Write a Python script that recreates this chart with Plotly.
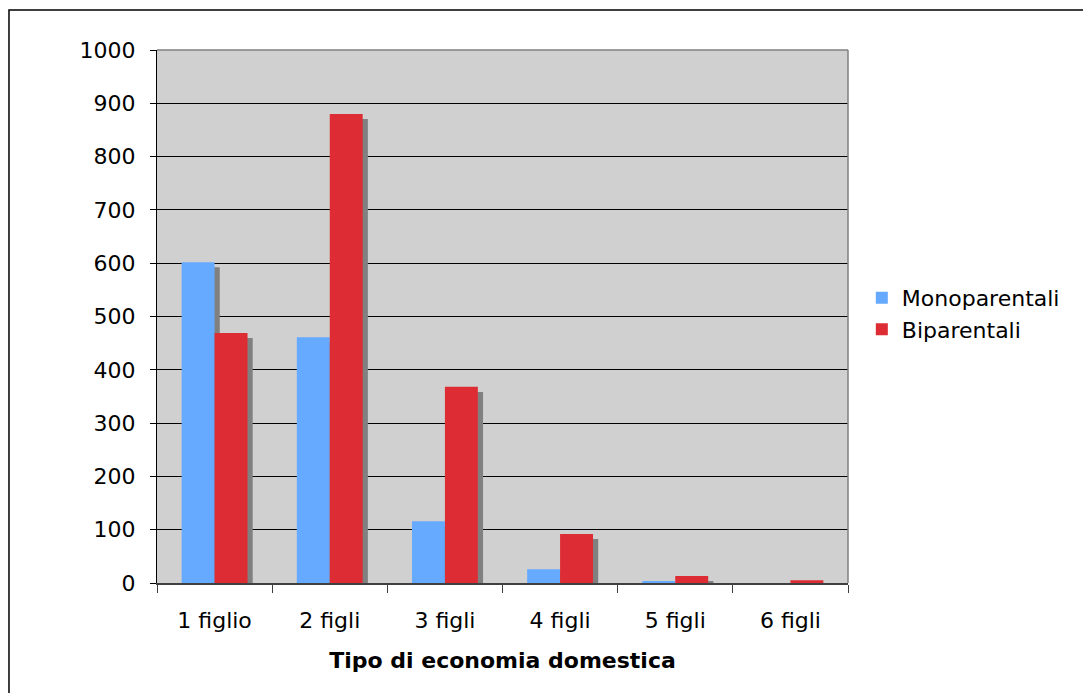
import plotly.graph_objects as go

categories = ["1 figlio", "2 figli", "3 figli", "4 figli", "5 figli", "6 figli"]
monoparentali = [602, 461, 116, 26, 2, 0]
biparentali = [469, 880, 368, 92, 13, 5]

y_ticks = list(range(0, 1001, 100))

FONT = "DejaVu Sans, Verdana, sans-serif"
FS = 22
BAR_W = 0.286          # bar width in category units
SHADOW_DX = 0.045      # shadow shift to the right (category units)
SHADOW_DY = 9.5        # shadow drop (value units)

MONO_COLOR = "#66AAFF"
BI_COLOR = "#DD2C33"

fig = go.Figure()

# drop shadows behind each bar
for vals, off in ((monoparentali, -BAR_W), (biparentali, 0.0)):
    fig.add_trace(go.Bar(
        x=categories,
        y=[max(v - SHADOW_DY, 0) for v in vals],
        offset=off + SHADOW_DX,
        width=BAR_W,
        marker=dict(color="#808080", line=dict(width=0)),
        showlegend=False,
        hoverinfo="skip",
    ))

fig.add_trace(go.Bar(
    name="Monoparentali", x=categories, y=monoparentali,
    offset=-BAR_W, width=BAR_W,
    marker=dict(color=MONO_COLOR, line=dict(width=0)),
))
fig.add_trace(go.Bar(
    name="Biparentali", x=categories, y=biparentali,
    offset=0.0, width=BAR_W,
    marker=dict(color=BI_COLOR, line=dict(width=0)),
))

fig.update_layout(
    width=1083, height=693,
    barmode="overlay",
    paper_bgcolor="white",
    plot_bgcolor="#D0D0D0",
    margin=dict(l=157, r=235, t=50, b=110),
    font=dict(family=FONT, size=FS, color="black"),
    legend=dict(
        x=1.02, y=0.505, xanchor="left", yanchor="middle",
        font=dict(family=FONT, size=FS, color="black"),
        bgcolor="rgba(0,0,0,0)",
        tracegroupgap=0, itemwidth=30,
    ),
    shapes=[
        # outer frame (its right and bottom edges fall outside the page)
        dict(type="rect", xref="paper", yref="paper",
             x0=-0.2142, x1=1.6, y0=-0.5, y1=1.075,
             line=dict(color="black", width=1.5), fillcolor="rgba(0,0,0,0)",
             layer="below"),
        # gray frame on the top and right of the plot area
        dict(type="line", xref="paper", yref="paper", x0=0, x1=1, y0=1, y1=1,
             line=dict(color="#808080", width=1.5)),
        dict(type="line", xref="paper", yref="paper", x0=1, x1=1, y0=0, y1=1,
             line=dict(color="#808080", width=1.5)),
    ],
)

fig.update_xaxes(
    type="category",
    range=[-0.5, 5.5],
    showline=True, linecolor="#404040", linewidth=1.5,
    ticks="outside", tickson="boundaries", ticklen=8, tickcolor="#404040",
    tickfont=dict(family=FONT, size=FS),
    ticklabelstandoff=17,
    showgrid=False,
    title=dict(text="<b>Tipo di economia domestica</b>",
               font=dict(family=FONT, size=FS), standoff=20),
)
fig.update_yaxes(
    range=[0, 1000],
    tickvals=y_ticks,
    showline=True, linecolor="black", linewidth=1,
    ticks="outside", ticklen=6, tickcolor="black",
    ticklabelstandoff=10,
    showgrid=True, gridcolor="black", gridwidth=1,
    zeroline=False,
    tickfont=dict(family=FONT, size=FS),
)

fig.write_html("out.html")
